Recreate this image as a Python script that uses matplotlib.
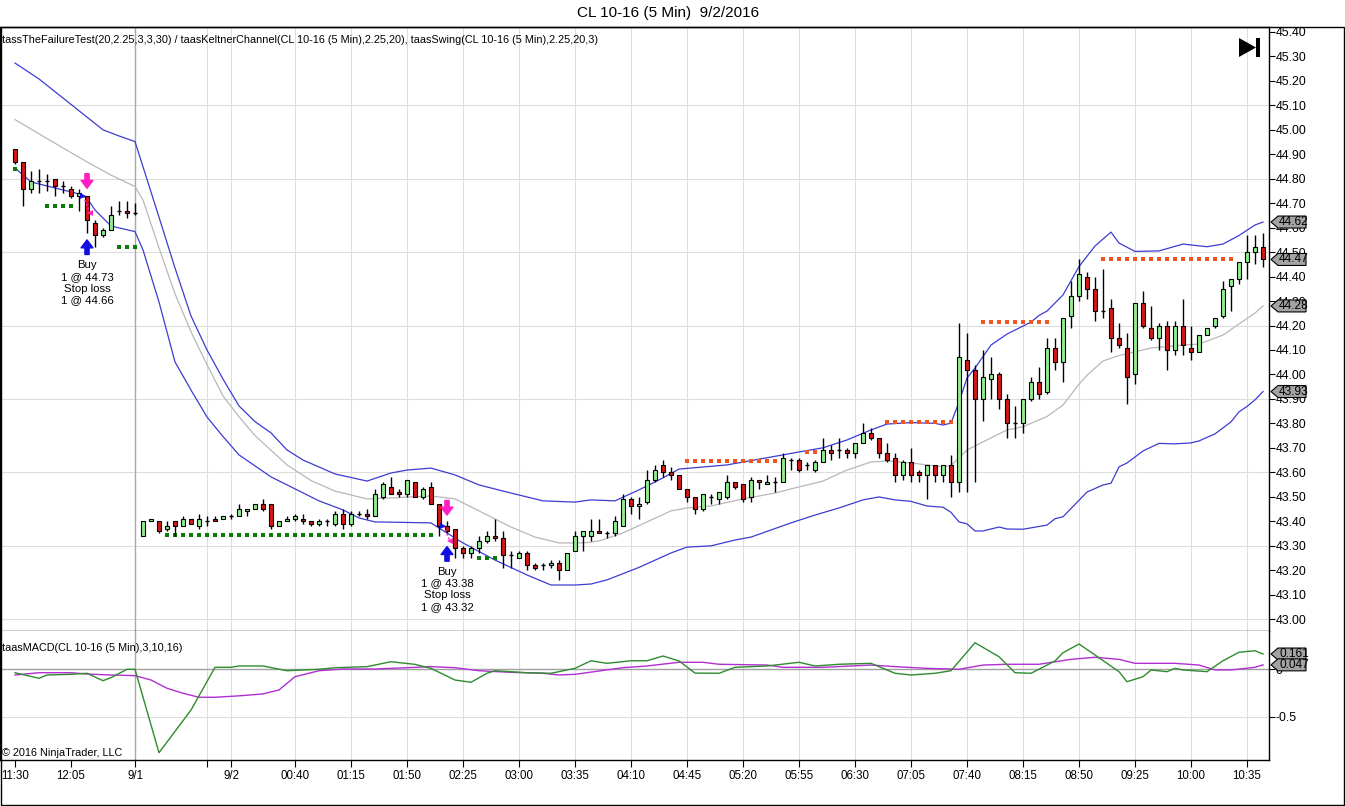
import numpy as np
import matplotlib
matplotlib.use('Agg')
import matplotlib.pyplot as plt
from matplotlib.patches import Polygon, Rectangle

plt.rcParams['font.family'] = ['Liberation Sans', 'DejaVu Sans']

W, H = 1345, 806

# ---------------- data ----------------
opens = [44.92, 44.87, 44.76, 44.79, 44.79, 44.80, 44.77, 44.76, 44.73, 44.73,
         44.62, 44.57, 44.59, 44.67, 44.67, 44.66, 43.34, 43.40, 43.40, 43.37,
         43.40, 43.38, 43.41, 43.38, 43.40, 43.41, 43.41, 43.42, 43.42, 43.44,
         43.45, 43.47, 43.47, 43.38, 43.40, 43.41, 43.41, 43.40, 43.39, 43.40,
         43.39, 43.43, 43.39, 43.43, 43.43, 43.42, 43.50, 43.54, 43.52, 43.51,
         43.56, 43.50, 43.54, 43.47, 43.38, 43.37, 43.29, 43.27, 43.29, 43.32,
         43.34, 43.33, 43.26, 43.25, 43.27, 43.22, 43.22, 43.22, 43.23, 43.20,
         43.28, 43.34, 43.34, 43.36, 43.35, 43.35, 43.38, 43.49, 43.46, 43.48,
         43.57, 43.63, 43.60, 43.59, 43.53, 43.50, 43.45, 43.50, 43.49, 43.50,
         43.56, 43.55, 43.50, 43.57, 43.55, 43.56, 43.56, 43.65, 43.65, 43.63,
         43.61, 43.64, 43.69, 43.69, 43.69, 43.68, 43.72, 43.76, 43.74, 43.68,
         43.66, 43.59, 43.64, 43.60, 43.59, 43.63, 43.59, 43.63, 43.56, 44.06,
         44.02, 43.90, 43.98, 44.00, 43.90, 43.80, 43.80, 43.90, 43.97, 43.93,
         44.11, 44.05, 44.24, 44.32, 44.40, 44.35, 44.26, 44.27, 44.15, 44.11,
         44.00, 44.29, 44.19, 44.15, 44.20, 44.10, 44.20, 44.11, 44.09, 44.16,
         44.20, 44.24, 44.36, 44.39, 44.46, 44.50, 44.52]
highs = [44.92, 44.87, 44.83, 44.84, 44.82, 44.80, 44.79, 44.77, 44.76, 44.73,
         44.63, 44.60, 44.69, 44.71, 44.71, 44.70, 43.40, 43.41, 43.40, 43.40,
         43.40, 43.42, 43.41, 43.43, 43.42, 43.42, 43.42, 43.43, 43.47, 43.45,
         43.47, 43.49, 43.47, 43.40, 43.42, 43.43, 43.43, 43.40, 43.41, 43.41,
         43.44, 43.45, 43.44, 43.44, 43.45, 43.53, 43.56, 43.58, 43.53, 43.57,
         43.56, 43.54, 43.56, 43.47, 43.40, 43.37, 43.30, 43.30, 43.34, 43.36,
         43.41, 43.36, 43.28, 43.28, 43.28, 43.23, 43.23, 43.24, 43.24, 43.27,
         43.36, 43.36, 43.41, 43.41, 43.36, 43.42, 43.51, 43.50, 43.50, 43.61,
         43.63, 43.65, 43.62, 43.59, 43.53, 43.50, 43.51, 43.51, 43.52, 43.59,
         43.56, 43.55, 43.58, 43.57, 43.59, 43.58, 43.68, 43.66, 43.66, 43.64,
         43.65, 43.74, 43.71, 43.74, 43.70, 43.72, 43.80, 43.78, 43.74, 43.72,
         43.68, 43.65, 43.70, 43.61, 43.63, 43.63, 43.63, 43.67, 44.21, 44.17,
         44.04, 44.10, 44.07, 44.01, 43.92, 43.87, 43.90, 43.99, 44.03, 44.15,
         44.15, 44.23, 44.38, 44.47, 44.42, 44.40, 44.43, 44.31, 44.21, 44.17,
         44.29, 44.34, 44.28, 44.21, 44.22, 44.22, 44.31, 44.20, 44.16, 44.19,
         44.23, 44.38, 44.39, 44.46, 44.57, 44.57, 44.58]
lows = [44.86, 44.69, 44.74, 44.74, 44.75, 44.73, 44.74, 44.72, 44.67, 44.58,
        44.52, 44.56, 44.59, 44.65, 44.64, 44.65, 43.34, 43.40, 43.35, 43.36,
        43.34, 43.38, 43.39, 43.37, 43.38, 43.40, 43.41, 43.41, 43.42, 43.42,
        43.45, 43.44, 43.37, 43.38, 43.40, 43.40, 43.39, 43.38, 43.38, 43.38,
        43.38, 43.37, 43.38, 43.42, 43.41, 43.42, 43.49, 43.51, 43.50, 43.50,
        43.50, 43.49, 43.47, 43.34, 43.35, 43.25, 43.25, 43.25, 43.27, 43.31,
        43.32, 43.21, 43.21, 43.25, 43.20, 43.20, 43.20, 43.21, 43.16, 43.20,
        43.28, 43.28, 43.32, 43.35, 43.33, 43.34, 43.38, 43.43, 43.41, 43.47,
        43.56, 43.58, 43.57, 43.53, 43.48, 43.43, 43.44, 43.47, 43.47, 43.49,
        43.53, 43.48, 43.48, 43.53, 43.55, 43.52, 43.56, 43.61, 43.60, 43.61,
        43.60, 43.64, 43.65, 43.66, 43.66, 43.66, 43.72, 43.73, 43.66, 43.64,
        43.56, 43.57, 43.56, 43.56, 43.49, 43.56, 43.56, 43.50, 43.52, 43.52,
        43.56, 43.81, 43.90, 43.86, 43.74, 43.74, 43.76, 43.89, 43.90, 43.92,
        44.02, 43.97, 44.19, 44.30, 44.31, 44.22, 44.23, 44.09, 44.11, 43.88,
        43.96, 44.19, 44.14, 44.10, 44.02, 44.08, 44.08, 44.06, 44.09, 44.16,
        44.19, 44.23, 44.26, 44.37, 44.39, 44.45, 44.44]
closes = [44.87, 44.76, 44.79, 44.79, 44.79, 44.77, 44.77, 44.73, 44.74, 44.63,
          44.57, 44.59, 44.65, 44.67, 44.66, 44.66, 43.40, 43.41, 43.36, 43.38,
          43.38, 43.41, 43.39, 43.41, 43.40, 43.40, 43.42, 43.42, 43.45, 43.45,
          43.47, 43.45, 43.38, 43.40, 43.41, 43.42, 43.40, 43.39, 43.40, 43.40,
          43.43, 43.39, 43.43, 43.43, 43.42, 43.51, 43.55, 43.51, 43.51, 43.57,
          43.50, 43.53, 43.47, 43.38, 43.36, 43.29, 43.27, 43.29, 43.32, 43.34,
          43.33, 43.26, 43.26, 43.27, 43.22, 43.21, 43.22, 43.23, 43.20, 43.27,
          43.34, 43.36, 43.36, 43.35, 43.35, 43.40, 43.49, 43.46, 43.47, 43.57,
          43.61, 43.60, 43.59, 43.53, 43.50, 43.45, 43.51, 43.50, 43.52, 43.56,
          43.54, 43.49, 43.57, 43.56, 43.56, 43.56, 43.66, 43.65, 43.61, 43.63,
          43.64, 43.69, 43.68, 43.69, 43.68, 43.72, 43.76, 43.74, 43.68, 43.65,
          43.59, 43.64, 43.59, 43.59, 43.63, 43.59, 43.63, 43.56, 44.07, 44.02,
          43.90, 43.99, 44.00, 43.90, 43.80, 43.80, 43.90, 43.97, 43.92, 44.11,
          44.05, 44.23, 44.32, 44.41, 44.35, 44.26, 44.26, 44.15, 44.12, 43.99,
          44.29, 44.20, 44.15, 44.20, 44.10, 44.20, 44.12, 44.09, 44.16, 44.19,
          44.23, 44.35, 44.39, 44.46, 44.50, 44.52, 44.47]

# Keltner channel (bar index, price)
upper_idx = [0, 3, 6, 9, 11, 13, 15, 16, 18, 20, 22, 24, 26, 28, 30, 32, 34, 36, 40, 44,
             47, 49, 52, 55, 58, 62, 66, 70, 72, 75, 78, 81, 83, 89, 96, 98, 101, 104, 107, 109,
             112, 115, 116, 117, 118, 119, 120, 122, 124, 127, 128, 129, 131, 133, 135, 137, 138,
             140, 143, 146, 149, 151, 153, 155, 156]
upper_val = [45.273, 45.208, 45.13, 45.052, 45.0, 44.975, 44.952, 44.849, 44.643, 44.435,
             44.239, 44.10, 43.981, 43.871, 43.807, 43.761, 43.691, 43.65, 43.593, 43.564,
             43.597, 43.609, 43.617, 43.589, 43.548, 43.515, 43.483, 43.478, 43.487, 43.483,
             43.528, 43.577, 43.613, 43.63, 43.671, 43.683, 43.70, 43.732, 43.773, 43.797,
             43.803, 43.80, 43.793, 43.801, 43.887, 43.985, 44.026, 44.12, 44.165, 44.214,
             44.241, 44.259, 44.325, 44.441, 44.525, 44.582, 44.537, 44.503, 44.505, 44.533,
             44.522, 44.533, 44.568, 44.611, 44.623]
mid_idx = [0, 2, 6, 9, 12, 15, 16, 18, 20, 22, 24, 26, 28, 30, 34, 37, 40, 44, 47, 52,
           55, 58, 62, 65, 68, 71, 73, 76, 79, 82, 84, 87, 91, 95, 97, 101, 104, 107, 109, 112,
           116, 117, 118, 119, 121, 124, 126, 129, 131, 133, 134, 136, 138, 142, 146, 148, 151,
           153, 155, 156]
mid_val = [45.042, 45.003, 44.926, 44.869, 44.815, 44.768, 44.713, 44.517, 44.33, 44.174,
           44.04, 43.912, 43.827, 43.75, 43.63, 43.566, 43.523, 43.491, 43.495, 43.503,
           43.491, 43.442, 43.376, 43.335, 43.311, 43.311, 43.319, 43.352, 43.397, 43.442,
           43.454, 43.462, 43.491, 43.515, 43.532, 43.564, 43.609, 43.642, 43.646, 43.638,
           43.622, 43.628, 43.658, 43.691, 43.724, 43.773, 43.786, 43.828, 43.875, 43.96,
           43.996, 44.055, 44.077, 44.108, 44.12, 44.124, 44.161, 44.206, 44.251, 44.28]
lower_idx = [0, 2, 6, 8, 9, 10, 12, 13, 15, 16, 18, 20, 22, 24, 26, 28, 30, 32, 35, 38,
             41, 43, 45, 52, 53, 56, 60, 64, 67, 70, 72, 74, 78, 82, 84, 87, 90, 92, 97, 100,
             103, 106, 108, 110, 112, 114, 116, 117, 118, 119, 120, 121, 123, 124, 126, 129, 130,
             131, 134, 136, 137, 138, 139, 141, 143, 145, 147, 148, 150, 152, 153, 154, 155, 156]
lower_val = [44.844, 44.787, 44.754, 44.738, 44.721, 44.672, 44.607, 44.599, 44.584, 44.509,
             44.296, 44.051, 43.936, 43.826, 43.746, 43.671, 43.626, 43.581, 43.532, 43.483,
             43.446, 43.413, 43.397, 43.393, 43.372, 43.311, 43.241, 43.18, 43.139, 43.139,
             43.143, 43.16, 43.211, 43.27, 43.294, 43.299, 43.323, 43.335, 43.393, 43.425,
             43.454, 43.487, 43.499, 43.487, 43.481, 43.462, 43.457, 43.436, 43.397, 43.389,
             43.36, 43.36, 43.376, 43.368, 43.367, 43.384, 43.41, 43.418, 43.519, 43.548,
             43.555, 43.622, 43.638, 43.687, 43.718, 43.716, 43.72, 43.728, 43.757, 43.806,
             43.847, 43.869, 43.896, 43.93]

# Swing lines (start bar, end bar, price)
swing_low_start = [0, 4, 13, 19, 58]
swing_low_end = [0, 7, 15, 52, 60]
swing_low_price = [44.84, 44.69, 44.52, 43.345, 43.25]
swing_high_start = [84, 99, 109, 121, 136]
swing_high_end = [95, 100, 117, 129, 152]
swing_high_price = [43.646, 43.684, 43.807, 44.216, 44.472]

# Trades
trade_bar = [9, 54]
entry_price = [44.73, 43.38]
stop_price = [44.66, 43.32]
short_arrow_price = [44.761, 43.425]
long_arrow_price = [44.55, 43.296]

# MACD (bar index, value)
macd_idx = [0, 3, 4, 7, 9, 11, 12, 14, 15, 18, 22, 25, 27, 28, 31, 34, 38, 40, 44, 47,
            50, 52, 55, 57, 59, 60, 64, 67, 70, 72, 74, 77, 79, 81, 83, 85, 88, 90, 94, 98,
            100, 103, 107, 110, 112, 115, 117, 120, 123, 125, 127, 130, 131, 133, 135, 138, 139,
            141, 142, 144, 145, 146, 149, 151, 153, 155, 156]
macd_val = [-0.036, -0.095, -0.06, -0.053, -0.042, -0.12, -0.088, 0.0, 0.0, -0.88,
            -0.43, 0.021, 0.021, 0.035, 0.035, -0.015, 0.0, 0.017, 0.028, 0.08,
            0.052, 0.01, -0.113, -0.137, -0.042, -0.015, -0.036, -0.042, 0.01, 0.09,
            0.063, 0.09, 0.09, 0.14, 0.088, -0.04, -0.042, 0.021, 0.035, 0.074,
            0.035, 0.053, 0.063, -0.042, -0.06, -0.042, -0.015, 0.28, 0.133, -0.036,
            -0.042, 0.088, 0.175, 0.267, 0.151, -0.025, -0.131, -0.078, -0.007, -0.025,
            0.01, -0.007, -0.025, 0.09, 0.18, 0.196, 0.161]
signal_idx = [0, 3, 7, 9, 12, 15, 17, 19, 21, 23, 25, 28, 31, 33, 35, 38, 41, 45, 49, 52,
              55, 58, 62, 66, 68, 70, 73, 76, 79, 83, 86, 88, 94, 96, 101, 107, 110, 114, 118, 121,
              124, 128, 132, 135, 138, 140, 145, 148, 150, 152, 155, 156]
signal_val = [-0.06, -0.036, -0.036, -0.05, -0.06, -0.067, -0.113, -0.2, -0.253, -0.295,
              -0.295, -0.28, -0.26, -0.218, -0.078, -0.015, 0.003, 0.003, 0.017, 0.028,
              0.017, -0.015, -0.032, -0.042, -0.06, -0.053, -0.018, 0.017, 0.035, 0.074,
              0.074, 0.053, 0.045, 0.021, 0.021, 0.045, 0.028, 0.01, 0.0, 0.045,
              0.053, 0.053, 0.105, 0.127, 0.105, 0.063, 0.063, 0.045, -0.007, -0.007,
              0.021, 0.047]

# Time axis
tick_idx = [0, 7, 15, 24, 27, 35, 42, 49, 56, 63, 70, 77, 84, 91, 98, 105, 112, 119,
            126, 133, 140, 147, 154]
tick_labels = ['11:30', '12:05', '9/1', '', '9/2', '00:40', '01:15', '01:50', '02:25',
               '03:00', '03:35', '04:10', '04:45', '05:20', '05:55', '06:30', '07:05',
               '07:40', '08:15', '08:50', '09:25', '10:00', '10:35']
session_break = 15

# ---------------- styles ----------------
UP = '#90ee90'
DN = '#d41818'
BLUE = '#3c3cd2'
GRAYL = '#b8b8b8'
GRID = '#dddddd'
SWG = '#0b7a0b'
SWO = '#f0561e'
PINK = '#ff1fc2'
ABLUE = '#1010e0'

def px(x, y):
    return (x / W, 1 - y / H)

fig = plt.figure(figsize=(W / 100, H / 100), dpi=100)
fig.patch.set_facecolor('white')

ax = fig.add_axes([0, 1 - 631 / H, 1269 / W, (631 - 27) / H])
ax2 = fig.add_axes([0, 1 - 760 / H, 1269 / W, (760 - 631) / H])

n = len(opens)
x = np.arange(n)
o = np.array(opens); h = np.array(highs); l = np.array(lows); c = np.array(closes)
xlim = (-15 / 8, (1269 - 15) / 8)

# ---------- main panel ----------
ax.set_xlim(*xlim)
ax.set_ylim(43.00 - 12 / 244.6, 45.40 + 5 / 244.6)

for p in np.arange(43.0, 45.15, 0.3):
    ax.axhline(p, color=GRID, lw=0.8, zorder=0)
for t in tick_idx:
    if t > 7 and t != session_break:
        ax.axvline(t, color=GRID, lw=0.8, zorder=0)
        ax2.axvline(t, color=GRID, lw=0.8, zorder=0)
ax.axvline(session_break, color='#a8a8a8', lw=1, zorder=0.5)
ax2.axvline(session_break, color='#a8a8a8', lw=1, zorder=0.5)

ax.plot(upper_idx, upper_val, color=BLUE, lw=0.9, zorder=2)
ax.plot(mid_idx, mid_val, color=GRAYL, lw=0.9, zorder=2)
ax.plot(lower_idx, lower_val, color=BLUE, lw=0.9, zorder=2)

for s, e, p in zip(swing_low_start, swing_low_end, swing_low_price):
    xs = np.arange(s, e + 1)
    ax.plot(xs, [p] * len(xs), 's', ms=3, color=SWG, mew=0, zorder=2.5)
for s, e, p in zip(swing_high_start, swing_high_end, swing_high_price):
    xs = np.arange(s, e + 1)
    ax.plot(xs, [p] * len(xs), 's', ms=3, color=SWO, mew=0, zorder=2.5)

up = c > o + 1e-9
dn = c < o - 1e-9
dj = ~(up | dn)
bw = 0.62
ax.vlines(x, l, h, color='black', lw=1, zorder=3)
ax.bar(x[up], (c - o)[up], bottom=o[up], width=bw, color=UP, edgecolor='black',
       linewidth=0.8, zorder=4)
ax.bar(x[dn], (o - c)[dn], bottom=c[dn], width=bw, color=DN, edgecolor='black',
       linewidth=0.8, zorder=4)
ax.hlines(c[dj], x[dj] - bw / 2, x[dj] + bw / 2, color='black', lw=1, zorder=4)

for b, ep, sp, sa, la in zip(trade_bar, entry_price, stop_price, short_arrow_price,
                             long_arrow_price):
    aprops = dict(arrowstyle='simple,head_length=0.6,head_width=0.9,tail_width=0.32',
                  shrinkA=0, shrinkB=0, mutation_scale=9.5)
    ax.annotate('', xy=(b, sa), xytext=(0, 10.5), textcoords='offset points',
                arrowprops=dict(color=PINK, **aprops), zorder=6)
    ax.annotate('', xy=(b, la), xytext=(0, -10.5), textcoords='offset points',
                arrowprops=dict(color=ABLUE, **aprops), zorder=6)
    ax.plot([b - 0.45, b + 0.35], [ep, sp], ls=(0, (1.5, 1.5)), color=PINK, lw=1, zorder=5)
    ax.plot(b - 0.45, ep, marker='>', ms=5, color=ABLUE, mew=0, zorder=6)
    ax.plot(b + 0.35, sp, marker='<', ms=5, color=PINK, mew=0, zorder=6)
    ax.annotate(f'Buy\n1 @ {ep:.2f}\nStop loss\n1 @ {sp:.2f}', xy=(b, la),
                xytext=(0, -14.5), textcoords='offset points', ha='center', va='top',
                fontsize=8.2, linespacing=1.22, zorder=6)

ax.yaxis.tick_right()
yt = np.round(np.arange(43.0, 45.401, 0.1), 2)
ax.set_yticks(yt)
ax.set_yticklabels([f'{v:.2f}' for v in yt])
ax.tick_params(axis='y', direction='out', length=4, width=0.8, pad=0.5, labelsize=8.9)
ax.set_xticks(tick_idx)
ax.tick_params(axis='x', length=0, labelbottom=False)
for sp_ in ['left', 'bottom', 'top', 'right']:
    ax.spines[sp_].set_linewidth(1)

# ---------- MACD panel ----------
ax2.set_xlim(*xlim)
ax2.set_ylim(-90.7 / 94.8, 38.3 / 94.8)
ax2.axhline(0, color='#a0a0a0', lw=1, zorder=0.6)
ax2.axhline(-0.5, color=GRID, lw=0.8, zorder=0)
ax2.plot(signal_idx, signal_val, color='#b22ed2', lw=1, zorder=2)
ax2.plot(macd_idx, macd_val, color='#2e8b2e', lw=1, zorder=2.1)
ax2.yaxis.tick_right()
ax2.set_yticks([0, -0.5])
ax2.set_yticklabels(['0', '-0.5'])
ax2.tick_params(axis='y', direction='out', length=4, width=0.8, pad=0.5, labelsize=8.9)
ax2.set_xticks(tick_idx)
ax2.set_xticklabels(tick_labels)
ax2.tick_params(axis='x', direction='out', length=5, width=0.8, pad=2, labelsize=8.3)
ax2.spines['top'].set_visible(False)
for sp_ in ['left', 'bottom', 'right']:
    ax2.spines[sp_].set_linewidth(1)

# ---------- texts and decorations ----------
fig.text(*px(668, 13), 'CL 10-16 (5 Min)  9/2/2016', ha='center', va='center', fontsize=11)
fig.text(*px(2, 40), 'tassTheFailureTest(20,2.25,3,3,30) / taasKeltnerChannel(CL 10-16 (5 Min),'
         '2.25,20), taasSwing(CL 10-16 (5 Min),2.25,20,3)', ha='left', va='center', fontsize=7.8)
fig.text(*px(2, 648), 'taasMACD(CL 10-16 (5 Min),3,10,16)', ha='left', va='center', fontsize=7.8)
fig.text(*px(2, 753), '\u00a9 2016 NinjaTrader, LLC', ha='left', va='center', fontsize=7.8)

# outer frame
fig.add_artist(Rectangle(px(0.5, 805), 1343.5 / W, (805 - 27) / H, fill=False,
                         ec='black', lw=1, transform=fig.transFigure))

# end-of-chart icon
fig.add_artist(Polygon([px(1239, 38), px(1239, 57), px(1256, 47.5)], closed=True,
                       fc='black', ec='none', transform=fig.transFigure))
fig.add_artist(Rectangle(px(1256, 57), 4 / W, 19 / H, fc='black', ec='none',
                         transform=fig.transFigure))

# value flags on right axis
def flag(axis, value, fmt):
    yd = axis.transData.transform((0, value))[1]
    yp = H - yd
    pts = [px(1271, yp), px(1278, yp - 6), px(1306, yp - 6), px(1306, yp + 6), px(1278, yp + 6)]
    fig.add_artist(Polygon(pts, closed=True, fc='#a3a3a3', ec='black', lw=0.8,
                           transform=fig.transFigure, zorder=5))
    fig.text(*px(1279, yp), fmt.format(value), ha='left', va='center', fontsize=8.6, zorder=6)

flag(ax, upper_val[-1], '{:.2f}')
flag(ax, closes[-1], '{:.2f}')
flag(ax, mid_val[-1], '{:.2f}')
flag(ax, lower_val[-1], '{:.2f}')
flag(ax2, macd_val[-1], '{:.3f}')
flag(ax2, signal_val[-1], '{:.3f}')

fig.savefig('out.png', dpi=100, facecolor='white')
